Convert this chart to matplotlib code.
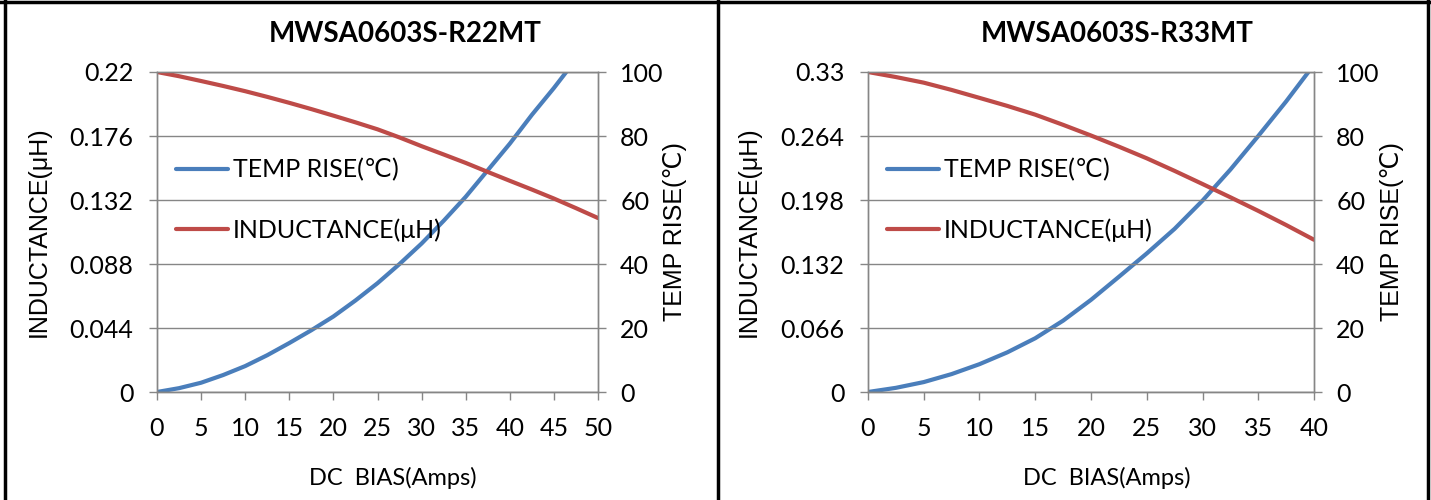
import matplotlib
matplotlib.use("Agg")
import matplotlib.pyplot as plt
from matplotlib.lines import Line2D

plt.rcParams["font.family"] = ["Lato", "DejaVu Sans"]

# MWSA0603S-R22MT
r22_temp_x = [0, 2.5, 5, 7.5, 10, 12.5, 15, 17.5, 20, 22.5, 25, 27.5, 30, 32.5, 35, 37.5, 40, 42.5, 45, 46.4]
r22_temp = [0, 1.2, 2.9, 5.3, 8.1, 11.5, 15.3, 19.3, 23.6, 28.6, 34.0, 40.0, 46.4, 53.5, 61.0, 69.3, 77.6, 86.6, 95.0, 100]
r22_ind_x = [0, 2.5, 5, 7.5, 10, 12.5, 15, 17.5, 20, 22.5, 25, 27.5, 30, 32.5, 35, 37.5, 40, 42.5, 45, 47.5, 50]
r22_ind = [0.22, 0.2171, 0.2138, 0.2104, 0.2068, 0.2029, 0.1988, 0.1945, 0.1900, 0.1854, 0.1806,
           0.1750, 0.1690, 0.1633, 0.1575, 0.1513, 0.1452, 0.1392, 0.1330, 0.1264, 0.1196]

# MWSA0603S-R33MT
r33_temp_x = [0, 2.5, 5, 7.5, 10, 12.5, 15, 17.5, 20, 22.5, 25, 27.5, 30, 32.5, 35, 37.5, 39.5]
r33_temp = [0, 1.3, 3.1, 5.6, 8.7, 12.4, 16.8, 22.3, 28.8, 36.0, 43.3, 51.0, 59.8, 69.5, 80.0, 90.8, 100]
r33_ind_x = [0, 2.5, 5, 7.5, 10, 12.5, 15, 17.5, 20, 22.5, 25, 27.5, 30, 32.5, 35, 37.5, 40]
r33_ind = [0.33, 0.3248, 0.319, 0.3115, 0.3033, 0.295, 0.286, 0.2755, 0.2645, 0.253, 0.241,
           0.228, 0.2145, 0.2008, 0.1868, 0.1722, 0.157]

panels = [
    dict(title="MWSA0603S-R22MT", tx=r22_temp_x, t=r22_temp, ix=r22_ind_x, ind=r22_ind,
         xmax=50, ymax=0.22, yticks=["0", "0.044", "0.088", "0.132", "0.176", "0.22"],
         rect=[157 / 1431, 108 / 500, 441 / 1431, 320 / 500], title_x=405 / 1431),
    dict(title="MWSA0603S-R33MT", tx=r33_temp_x, t=r33_temp, ix=r33_ind_x, ind=r33_ind,
         xmax=40, ymax=0.33, yticks=["0", "0.066", "0.132", "0.198", "0.264", "0.33"],
         rect=[868 / 1431, 108 / 500, 446 / 1431, 320 / 500], title_x=1117 / 1431),
]

BLUE = "#4A7EBB"
RED = "#BE4B48"
GREY = "#868686"
TICK_FONT = 18
LABEL_FONT = ["Liberation Sans", "DejaVu Sans"]

fig = plt.figure(figsize=(14.31, 5.0), dpi=100)

for p in panels:
    ax = fig.add_axes(p["rect"])
    ax2 = ax.twinx()
    ax.set_zorder(ax2.get_zorder() + 1)
    ax.patch.set_visible(False)

    l_temp, = ax2.plot(p["tx"], p["t"], color=BLUE, lw=3, solid_capstyle="round",
                       label="TEMP RISE(℃)")
    l_ind, = ax.plot(p["ix"], p["ind"], color=RED, lw=3, solid_capstyle="round",
                     label="INDUCTANCE(μH)")

    ax.set_xlim(0, p["xmax"])
    ax.set_xticks(range(0, p["xmax"] + 1, 5))
    ax.set_ylim(0, p["ymax"])
    yt = [p["ymax"] * i / 5 for i in range(6)]
    ax.set_yticks(yt)
    ax.set_yticklabels(p["yticks"])
    ax2.set_ylim(0, 100)
    ax2.set_yticks(range(0, 101, 20))

    ax.grid(axis="y", color=GREY, lw=1.0)
    ax.set_axisbelow(True)
    for a in (ax, ax2):
        for s in a.spines.values():
            s.set_color(GREY)
            s.set_linewidth(1.0)
        a.tick_params(colors=GREY, labelcolor="black", labelsize=TICK_FONT, length=6, width=1.0)
    ax.tick_params(axis="y", pad=11)
    ax.tick_params(axis="x", pad=12)
    ax2.tick_params(axis="y", pad=10)

    ax.set_xlabel("DC  BIAS(Amps)", fontsize=17)
    ax.xaxis.set_label_coords(0.535, -0.235)
    ax.set_ylabel("INDUCTANCE(μH)", fontsize=18, family=LABEL_FONT)
    ax.yaxis.set_label_coords(-0.24, 0.5)
    ax2.set_ylabel("TEMP RISE(℃)", fontsize=18, family=LABEL_FONT)
    ax2.yaxis.set_label_coords(1.148, 0.5)

    ax.legend(handles=[l_temp, l_ind], loc="center left", bbox_to_anchor=(0.042, 0.60),
              frameon=False, fontsize=TICK_FONT, borderpad=0, borderaxespad=0,
              handlelength=2.1, handletextpad=0.2, labelspacing=1.45)

    fig.text(p["title_x"], 1 - 34 / 500, p["title"], ha="center", va="center",
             fontsize=20, fontweight="bold")

# table cell borders
for x0 in (5 / 1431, 718 / 1431, 1428 / 1431):
    fig.add_artist(Line2D([x0, x0], [0, 1], color="black", lw=2.5))
fig.add_artist(Line2D([0, 1], [1 - 2 / 500, 1 - 2 / 500], color="black", lw=2.5))

fig.savefig("out.png", dpi=100)
